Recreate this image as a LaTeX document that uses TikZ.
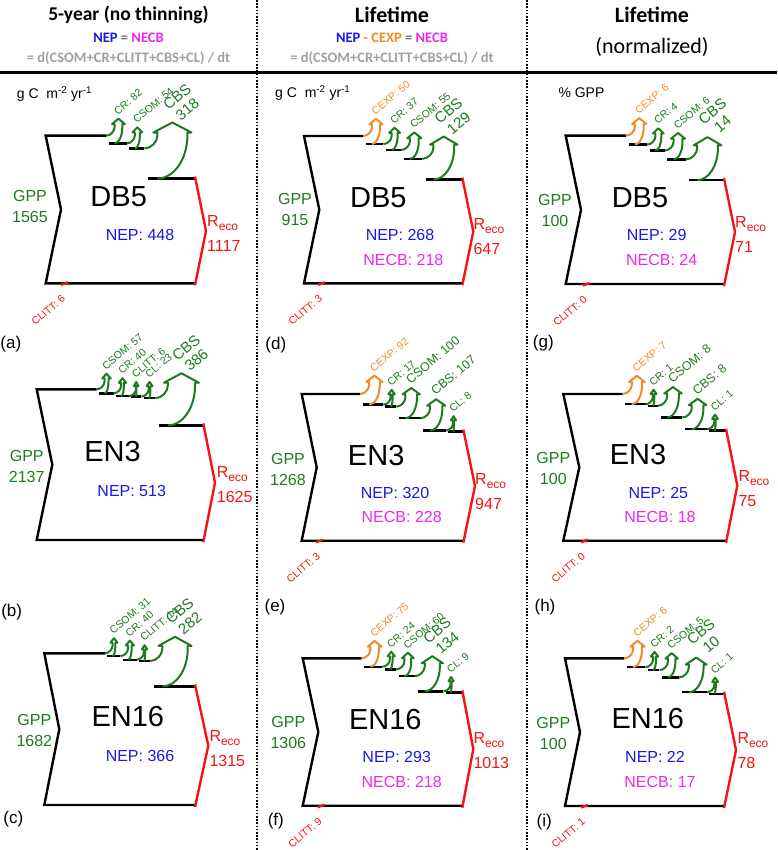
\documentclass[tikz,border=0pt]{standalone}
\usepackage{tikz}
\usepackage{fontspec}
\setmainfont{Liberation Sans}
\newfontfamily\hdfont{Carlito}
\definecolor{grn}{RGB}{31,122,31}
\definecolor{redc}{RGB}{245,20,20}
\definecolor{nepc}{RGB}{25,25,225}
\definecolor{necbc}{RGB}{235,40,235}
\definecolor{orng}{RGB}{240,140,40}
\definecolor{hdgray}{RGB}{160,160,160}
\definecolor{eqgray}{RGB}{110,110,110}
% one outgoing carbon flow: colour, value, name, label style, label
\newcommand{\sflow}[5]{%
  \pgfmathsetmacro\fw{#2*\fsc}%
  \pgfmathsetmacro\frad{7+0.2*\fw}%
  \pgfmathsetmacro\fsh{2+0.07*\fw}%
  \pgfmathsetmacro\fhd{4+0.2*\fw}%
  \pgfmathsetmacro\fxa{\fx+\frad}%
  \pgfmathsetmacro\fxb{\fxa+\fw}%
  \pgfmathsetmacro\fxm{\fxa+0.5*\fw}%
  \pgfmathsetmacro\fyc{\fy-\frad}%
  \pgfmathsetmacro\fyb{\fyc-3}%
  \pgfmathsetmacro\fyt{\fyb-\fhd}%
  \pgfmathsetmacro\fyl{\fy+\fw}%
  \draw[blk] (\fx+0.3*\frad,\fyl) -- (\fxb+\fgap,\fyl);
  \draw[flow,#1] (\fx,\fy) .. controls (\fx+0.55*\frad,\fy) and (\fxa,\fy-0.55*\frad) .. (\fxa,\fyc) -- (\fxa,\fyb) -- (\fxa-\fsh,\fyb) -- (\fxm,\fyt) -- (\fxb+\fsh,\fyb) -- (\fxb,\fyb) -- (\fxb,\fyc) .. controls (\fxb,\fyc+0.55*\frad+0.55*\fw) and (\fxa+0.55*\fw,\fyl) .. (\fxa,\fyl);
  \node[#4,text=#1] (#3) at (\fxm-0.5,\fyt-2.5) {#5};
  \pgfmathsetmacro\fnx{\fxb+\fgap}%
  \xdef\fx{\fnx}\xdef\fy{\fyl}%
}
\begin{document}
\begin{tikzpicture}[x=1pt,y=-1pt,
  blk/.style={line width=2.4pt,black},
  flow/.style={line width=2pt,line join=round},
  rd/.style={line width=2.4pt,redc},
  sep/.style={line width=2.2pt,dash pattern=on 1.6pt off 1.6pt},
  lsml/.style={font=\fontsize{10.5}{12}\selectfont,rotate=40,anchor=south west,inner sep=0.5pt},
  lmid/.style={lsml,font=\fontsize{12.5}{14}\selectfont},
  lbig/.style={font=\fontsize{15}{16}\selectfont,align=center,xshift=7pt,yshift=-4pt,rotate=40,anchor=south west,inner sep=0.5pt},
  site/.style={font=\fontsize{29}{30}\selectfont},
  gpp/.style={font=\fontsize{16}{21}\selectfont,text=grn,align=center},
  reco/.style={font=\fontsize{16}{25}\selectfont,text=redc,align=left,anchor=west,inner sep=0pt},
  nep/.style={font=\fontsize{16}{18}\selectfont,text=nepc},
  necb/.style={font=\fontsize{16}{18}\selectfont,text=necbc},
  plab/.style={font=\fontsize{17}{18}\selectfont},
  unit/.style={font=\fontsize{14}{16}\selectfont,anchor=west,inner sep=0pt},
  hd/.style={font=\hdfont\fontsize{22}{24}\selectfont\bfseries},
  hdsub/.style={font=\hdfont\fontsize{14.5}{16}\selectfont\bfseries}]
\useasboundingbox (0,0) rectangle (777,850);

% header
\node[hd,font=\hdfont\fontsize{19.5}{24}\selectfont\bfseries] (h1) at (128.5,15) {5-year (no thinning)};
\node[hdsub] (h1a) at (128.5,38) {\textcolor{nepc}{NEP} \textcolor{eqgray}{=} \textcolor{necbc}{NECB}};
\node[hdsub,text=hdgray] (h1b) at (128.5,58) {= d(CSOM+CR+CLITT+CBS+CL) / dt};
\node[hd] (h2) at (392,15) {Lifetime};
\node[hdsub] (h2a) at (392,38) {\textcolor{nepc}{NEP} \textcolor{orng}{-} \textcolor{orng}{CEXP} \textcolor{eqgray}{=} \textcolor{necbc}{NECB}};
\node[hdsub,text=hdgray] (h2b) at (392,58) {= d(CSOM+CR+CLITT+CBS+CL) / dt};
\node[hd] (h3) at (652,15) {Lifetime};
\node[font=\hdfont\fontsize{22}{24}\selectfont] (h3a) at (652,47) {(normalized)};
\draw[line width=2.5pt] (0,72.5) -- (777,72.5);
\draw[sep] (257,0) -- (257,850);
\draw[sep] (527,0) -- (527,850);

% (a) DB5, 5-year
\node[unit] (a-unit) at (16.7,94) {g C~~m\textsuperscript{-2} yr\textsuperscript{-1}};
\draw[blk] (106,135.7) -- (45.7,135.7) -- (61,209.5) -- (45.7,283.3) -- (195,283.3);
\def\fsc{0.09431}\def\fgap{4.5}\xdef\fx{106}\xdef\fy{135.7}
\sflow{grn}{82}{a-cr}{lsml}{CR: 82}
\sflow{grn}{54}{a-csom}{lsml}{CSOM: 54}
\sflow{grn}{318}{a-cbs}{lbig}{CBS\\318}
\draw[blk] (\fx,\fy) -- (195,\fy);
\draw[rd] (195,\fy-2) -- (206,{(\fy+283.3)/2}) -- (195,285.3);
\draw[rd] (61,284.8) -- (68,282.3);
\node[lsml,text=redc,anchor=east] (a-clitt) at (64,297) {CLITT: 6};
\node[site] (a-site) at (118.7,196.7) {DB5};
\node[gpp] (a-gpp) at (30,206.7) {GPP\\1565};
\node[reco] (a-reco) at (207,233.3) {R\raisebox{-4pt}{\fontsize{12}{12}\selectfont eco}\\1117};
\node[nep] (a-nep) at (140,235) {NEP: 448};
\node[plab] (a-lab) at (10.8,344) {(a)};

% (b) EN3, 5-year
\draw[blk] (96.7,389.3) -- (36.7,389.3) -- (52.3,464.7) -- (36.7,540) -- (203.3,540);
\def\fsc{0.07052}\def\fgap{5}\xdef\fx{96.7}\xdef\fy{389.3}
\sflow{grn}{57}{b-csom}{lsml}{CSOM: 57}
\sflow{grn}{40}{b-cr}{lsml}{CR: 40}
\sflow{grn}{6}{b-clitt}{lsml}{CLITT: 6}
\sflow{grn}{23}{b-cl}{lsml}{CL: 23}
\sflow{grn}{386}{b-cbs}{lbig}{CBS\\386}
\draw[blk] (\fx,\fy) -- (203.3,\fy);
\draw[rd] (203.3,\fy-2) -- (215,{(\fy+540)/2}) -- (203.3,542);
\node[site] (b-site) at (112.5,451.7) {EN3};
\node[gpp] (b-gpp) at (26.7,466) {GPP\\2137};
\node[reco] (b-reco) at (216.7,485) {R\raisebox{-4pt}{\fontsize{12}{12}\selectfont eco}\\1625};
\node[nep] (b-nep) at (131.7,490.7) {NEP: 513};
\node[plab] (b-lab) at (11.7,611.7) {(b)};

% (c) EN16, 5-year
\draw[blk] (105,653.3) -- (44.3,653.3) -- (59.3,729.2) -- (44.3,805) -- (195,805);
\def\fsc{0.09019}\def\fgap{5}\xdef\fx{105}\xdef\fy{653.3}
\sflow{grn}{31}{c-csom}{lsml}{CSOM: 31}
\sflow{grn}{40}{c-cr}{lsml}{CR: 40}
\sflow{grn}{14}{c-clitt}{lsml}{CLITT: 14}
\sflow{grn}{282}{c-cbs}{lbig}{CBS\\282}
\draw[blk] (\fx,\fy) -- (195,\fy);
\draw[rd] (195,\fy-2) -- (208.3,{(\fy+805)/2}) -- (195,807);
\node[site] (c-site) at (127.8,716.3) {EN16};
\node[gpp] (c-gpp) at (34.3,730.8) {GPP\\1682};
\node[reco] (c-reco) at (209.3,748.3) {R\raisebox{-4pt}{\fontsize{12}{12}\selectfont eco}\\1315};
\node[nep] (c-nep) at (140,756) {NEP: 366};
\node[plab] (c-lab) at (13.3,819) {(c)};

% (d) DB5, lifetime
\node[unit] (d-unit) at (275,93) {g C~~m\textsuperscript{-2} yr\textsuperscript{-1}};
\draw[blk] (363.3,136) -- (304,136) -- (319.3,209.7) -- (304,283.3) -- (462.3,283.3);
\def\fsc{0.16098}\def\fgap{3.5}\xdef\fx{363.3}\xdef\fy{136}
\sflow{orng}{50}{d-cexp}{lsml}{CEXP: 50}
\sflow{grn}{37}{d-cr}{lsml}{CR: 37}
\sflow{grn}{55}{d-csom}{lsml}{CSOM: 55}
\sflow{grn}{129}{d-cbs}{lbig}{CBS\\129}
\draw[blk] (\fx,\fy) -- (462.3,\fy);
\draw[rd] (462.3,\fy-2) -- (473.3,{(\fy+283.3)/2}) -- (462.3,285.3);
\draw[rd] (318,284.8) -- (325,282.3);
\node[lsml,text=redc,anchor=east] (d-clitt) at (321,297) {CLITT: 3};
\node[site] (d-site) at (378.3,197.7) {DB5};
\node[gpp] (d-gpp) at (295,209) {GPP\\915};
\node[reco] (d-reco) at (473.3,236.7) {R\raisebox{-4pt}{\fontsize{12}{12}\selectfont eco}\\647};
\node[nep] (d-nep) at (400,235) {NEP: 268};
\node[necb] (d-necb) at (403.3,260) {NECB: 218};
\node[plab] (d-lab) at (275.8,345) {(d)};

% (e) EN3, lifetime
\draw[blk] (360,394) -- (301.7,394) -- (316.7,467.4) -- (301.7,540.7) -- (463.3,540.7);
\def\fsc{0.11569}\def\fgap{3.5}\xdef\fx{360}\xdef\fy{394}
\sflow{orng}{92}{e-cexp}{lsml}{CEXP: 92}
\sflow{grn}{17}{e-cr}{lsml}{CR: 17}
\sflow{grn}{100}{e-csom}{lmid}{CSOM: 100}
\sflow{grn}{107}{e-cbs}{lmid}{CBS: 107}
\sflow{grn}{8}{e-cl}{lsml}{CL: 8}
\draw[blk] (\fx,\fy) -- (463.3,\fy);
\draw[rd] (463.3,\fy-2) -- (475,{(\fy+540.7)/2}) -- (463.3,542.7);
\draw[rd] (316,542.2) -- (323,539.7);
\node[lsml,text=redc,anchor=east] (e-clitt) at (319,554.4) {CLITT: 3};
\node[site] (e-site) at (376.2,455.7) {EN3};
\node[gpp] (e-gpp) at (288,469) {GPP\\1268};
\node[reco] (e-reco) at (475,492) {R\raisebox{-4pt}{\fontsize{12}{12}\selectfont eco}\\947};
\node[nep] (e-nep) at (395,492.7) {NEP: 320};
\node[necb] (e-necb) at (401.7,516.7) {NECB: 228};
\node[plab] (e-lab) at (275,607.5) {(e)};

% (f) EN16, lifetime
\draw[blk] (361.7,658.3) -- (302.7,658.3) -- (318.3,732) -- (302.7,805.7) -- (462.3,805.7);
\def\fsc{0.11286}\def\fgap{3.5}\xdef\fx{361.7}\xdef\fy{658.3}
\sflow{orng}{75}{f-cexp}{lsml}{CEXP: 75}
\sflow{grn}{24}{f-cr}{lsml}{CR: 24}
\sflow{grn}{60}{f-csom}{lsml}{CSOM: 60}
\sflow{grn}{134}{f-cbs}{lbig}{CBS\\134}
\sflow{grn}{9}{f-cl}{lsml}{CL: 9}
\draw[blk] (\fx,\fy) -- (462.3,\fy);
\draw[rd] (462.3,\fy-2) -- (473.3,{(\fy+805.7)/2}) -- (462.3,807.7);
\draw[rd] (317.7,807.2) -- (324.7,804.7);
\node[lsml,text=redc,anchor=east] (f-clitt) at (320.7,819.7) {CLITT: 9};
\node[site] (f-site) at (385.3,719.7) {EN16};
\node[gpp] (f-gpp) at (288.3,732.5) {GPP\\1306};
\node[reco] (f-reco) at (473.3,750.3) {R\raisebox{-4pt}{\fontsize{12}{12}\selectfont eco}\\1013};
\node[nep] (f-nep) at (396.7,757.3) {NEP: 293};
\node[necb] (f-necb) at (401.7,781.7) {NECB: 218};
\node[plab] (f-lab) at (275.8,820.8) {(f)};

% (g) DB5, normalized
\node[unit] (g-unit) at (558.3,93) {\% GPP};
\draw[blk] (626,135.7) -- (565.7,135.7) -- (581,209.9) -- (565.7,284) -- (724,284);
\def\fsc{1.483}\def\fgap{3.5}\xdef\fx{626}\xdef\fy{135.7}
\sflow{orng}{6}{g-cexp}{lsml}{CEXP: 6}
\sflow{grn}{4}{g-cr}{lsml}{CR: 4}
\sflow{grn}{6}{g-csom}{lsml}{CSOM: 6}
\sflow{grn}{14}{g-cbs}{lbig}{CBS\\14}
\draw[blk] (\fx,\fy) -- (724,\fy);
\draw[rd] (724,\fy-2) -- (735,{(\fy+284)/2}) -- (724,286);
\draw[rd] (582.7,285.5) -- (589.7,283);
\node[lsml,text=redc,anchor=east] (g-clitt) at (585.7,298) {CLITT: 0};
\node[site] (g-site) at (640,197.7) {DB5};
\node[gpp] (g-gpp) at (555,210.8) {GPP\\100};
\node[reco] (g-reco) at (735,234) {R\raisebox{-4pt}{\fontsize{12}{12}\selectfont eco}\\71};
\node[nep] (g-nep) at (656.7,235) {NEP: 29};
\node[necb] (g-necb) at (661.7,260) {NECB: 24};
\node[plab] (g-lab) at (543.3,343.3) {(g)};

% (h) EN3, normalized
\draw[blk] (622.7,394) -- (563.3,394) -- (579.3,467.4) -- (563.3,540.7) -- (726,540.7);
\def\fsc{1.467}\def\fgap{3.5}\xdef\fx{622.7}\xdef\fy{394}
\sflow{orng}{7}{h-cexp}{lsml}{CEXP: 7}
\sflow{grn}{1}{h-cr}{lsml}{CR: 1}
\sflow{grn}{8}{h-csom}{lmid}{CSOM: 8}
\sflow{grn}{8}{h-cbs}{lmid}{CBS: 8}
\sflow{grn}{1}{h-cl}{lsml}{CL: 1}
\draw[blk] (\fx,\fy) -- (726,\fy);
\draw[rd] (726,\fy-2) -- (737.3,{(\fy+540.7)/2}) -- (726,542.7);
\draw[rd] (581,542.2) -- (588,539.7);
\node[lsml,text=redc,anchor=east] (h-clitt) at (584,554.4) {CLITT: 0};
\node[site] (h-site) at (638,455) {EN3};
\node[gpp] (h-gpp) at (553.3,468) {GPP\\100};
\node[reco] (h-reco) at (738.3,488.7) {R\raisebox{-4pt}{\fontsize{12}{12}\selectfont eco}\\75};
\node[nep] (h-nep) at (658.3,493.3) {NEP: 25};
\node[necb] (h-necb) at (660,517.3) {NECB: 18};
\node[plab] (h-lab) at (545,607.5) {(h)};

% (i) EN16, normalized
\draw[blk] (624.3,658.3) -- (565,658.3) -- (580,732.2) -- (565,806) -- (724,806);
\def\fsc{1.477}\def\fgap{3.5}\xdef\fx{624.3}\xdef\fy{658.3}
\sflow{orng}{6}{i-cexp}{lsml}{CEXP: 6}
\sflow{grn}{2}{i-cr}{lsml}{CR: 2}
\sflow{grn}{5}{i-csom}{lsml}{CSOM: 5}
\sflow{grn}{10}{i-cbs}{lbig}{CBS\\10}
\sflow{grn}{1}{i-cl}{lsml}{CL: 1}
\draw[blk] (\fx,\fy) -- (724,\fy);
\draw[rd] (724,\fy-2) -- (736,{(\fy+806)/2}) -- (724,808);
\draw[rd] (581,807.5) -- (588,805);
\node[lsml,text=redc,anchor=east] (i-clitt) at (584,820) {CLITT: 1};
\node[site] (i-site) at (647.8,719) {EN16};
\node[gpp] (i-gpp) at (553.3,733.3) {GPP\\100};
\node[reco] (i-reco) at (737.3,750.3) {R\raisebox{-4pt}{\fontsize{12}{12}\selectfont eco}\\78};
\node[nep] (i-nep) at (655,757.3) {NEP: 22};
\node[necb] (i-necb) at (660,781.7) {NECB: 17};
\node[plab] (i-lab) at (544.2,821.7) {(i)};
\end{tikzpicture}
\end{document}
